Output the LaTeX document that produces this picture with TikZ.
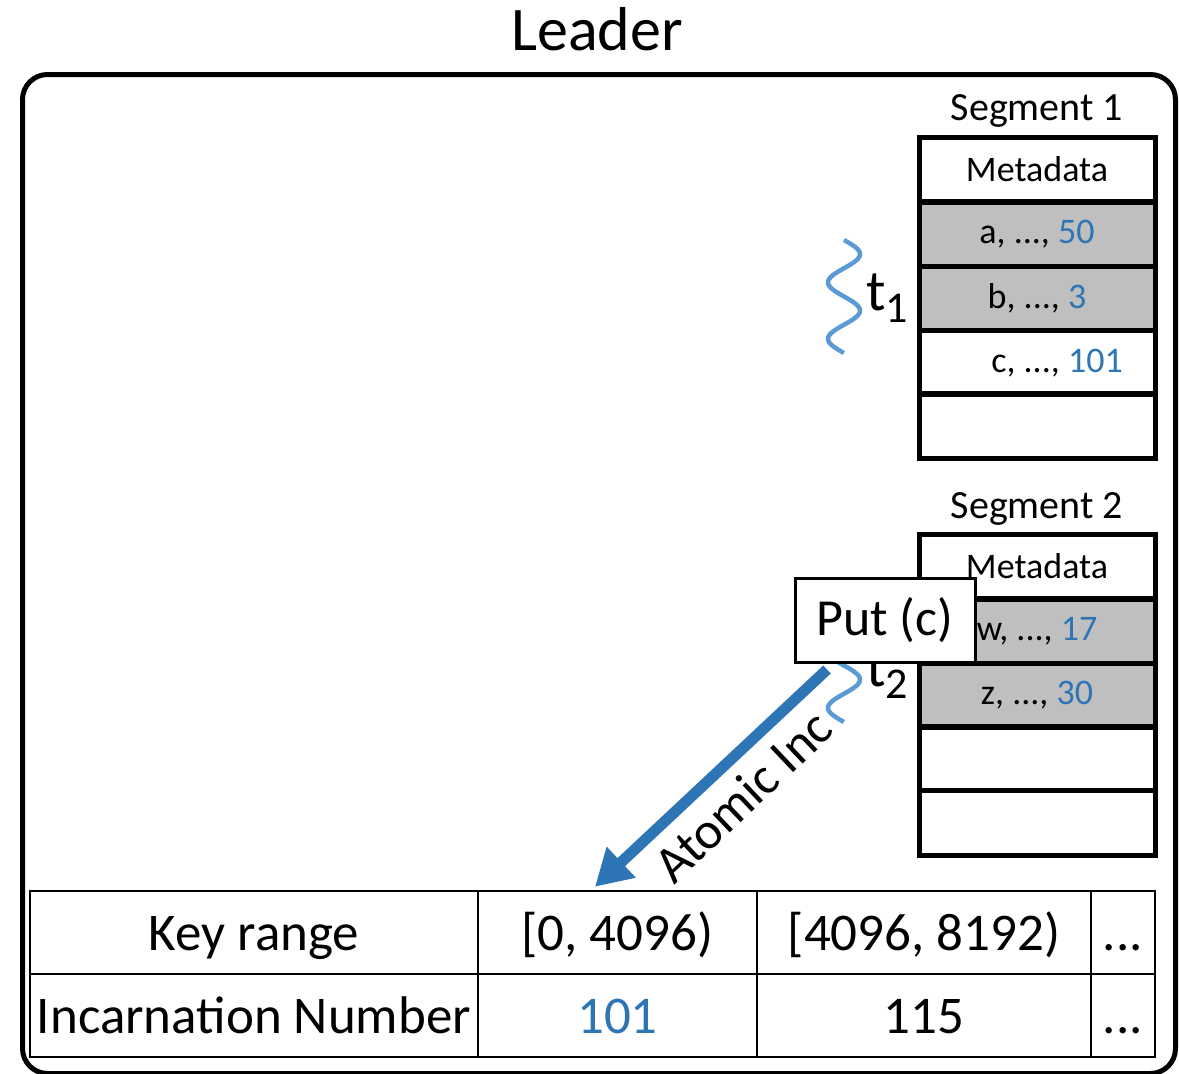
\documentclass[tikz,border=0pt]{standalone}
\usepackage{fontspec}
\setmainfont{Carlito}
\usetikzlibrary{arrows.meta}
\definecolor{accblue}{HTML}{2E75B6}
\definecolor{wavblue}{HTML}{5B9BD5}
\definecolor{rowgray}{HTML}{BFBFBF}

\begin{document}
\begin{tikzpicture}[x=1pt,y=-1pt,
  fs/.style={font=\fontsize{#1}{#1}\selectfont},
  segcell/.style={draw=black, line width=5pt, minimum width=236pt, minimum height=64.2pt,
    inner sep=0pt, fs=36},
  usedcell/.style={segcell, fill=rowgray},
  tabcell/.style={draw=black, line width=2.5pt, minimum height=83pt, inner sep=0pt, fs=53,
    text height=40pt, text depth=5pt},
  wave/.style={wavblue, line width=4.5pt},
  tlabel/.style={fs=58, inner sep=0pt, anchor=base west}]

\useasboundingbox (0,0) rectangle (1179,1074);

% the leader process
\node[fs=62, anchor=base] (leader) at (597,50) {Leader};
\node[draw, line width=5pt, rounded corners=25pt, minimum width=1153pt, minimum height=999pt,
  anchor=north west, inner sep=0pt] (leaderbox) at (20,72) {};

% segment 1
\node[fs=40, anchor=base] (seg1) at (1037,120) {Segment 1};
\node[segcell]  (s1m) at (1037,169.1) {Metadata};
\node[usedcell] (s1a) at (1037,234.3) {a, ..., \textcolor{accblue}{50}};
\node[usedcell] (s1b) at (1037,298.5) {b, ..., \textcolor{accblue}{3}};
\node[segcell]  (s1c) at (1037,362.7) {\hspace{40pt}c, ..., \textcolor{accblue}{101}};
\node[segcell]  (s1e) at (1037,425.9) {};

% segment 2
\node[fs=40, anchor=base] (seg2) at (1037,518) {Segment 2};
\node[segcell]  (s2m) at (1037,566.1) {Metadata};
\node[usedcell] (s2w) at (1037,631.3) {w, ..., \textcolor{accblue}{17}};
\node[usedcell] (s2z) at (1037,695.5) {z, ..., \textcolor{accblue}{30}};
\node[segcell]  (s2e) at (1037,758.7) {};
\node[segcell]  (s2f) at (1037,822.9) {};

% threads
\draw[wave] plot[domain=0:1, samples=80, smooth] ({844+16*sin(720*\x)}, {240+113*\x});
\node[tlabel] (t1) at (866,310) {t\raisebox{-12pt}{\fontsize{44}{44}\selectfont 1}};
\draw[wave] plot[domain=0:1, samples=80, smooth] ({844+16*sin(720*\x)}, {609+113*\x});
\node[tlabel] (t2) at (866,686) {t\raisebox{-12pt}{\fontsize{44}{44}\selectfont 2}};

% request
\node[draw, line width=3pt, fill=white, minimum width=180pt, minimum height=84pt,
  inner sep=0pt, fs=52] (putc) at (885,620) {\raisebox{-3pt}{Put (c)}};

% incarnation table
\node[tabcell, minimum width=448pt] (krh) at (254,932.5) {Key range};
\node[tabcell, minimum width=279pt] (kr1) at (617.5,932.5) {[0, 4096)};
\node[tabcell, minimum width=334pt] (kr2) at (924,932.5) {[4096, 8192)};
\node[tabcell, minimum width=64pt]  (kr3) at (1123,932.5) {...};
\node[tabcell, minimum width=448pt] (inh) at (254,1015.5) {Incarnation Number};
\node[tabcell, minimum width=279pt] (in1) at (617.5,1015.5) {\textcolor{accblue}{101}};
\node[tabcell, minimum width=334pt] (in2) at (924,1015.5) {115};
\node[tabcell, minimum width=64pt]  (in3) at (1123,1015.5) {...};

% atomic increment
\coordinate (incstart) at ([xshift=-58pt,yshift=-6pt]putc.south);
\coordinate (incend) at ([xshift=-22.5pt,yshift=3pt]kr1.north);
\draw[accblue, line width=11pt, -{Triangle[length=36pt,width=40pt]}] (incstart) -- (incend);
\node[fs=52, rotate=43.5, inner sep=0pt] (inclabel) at (743,796) {Atomic Inc};

\end{tikzpicture}
\end{document}
